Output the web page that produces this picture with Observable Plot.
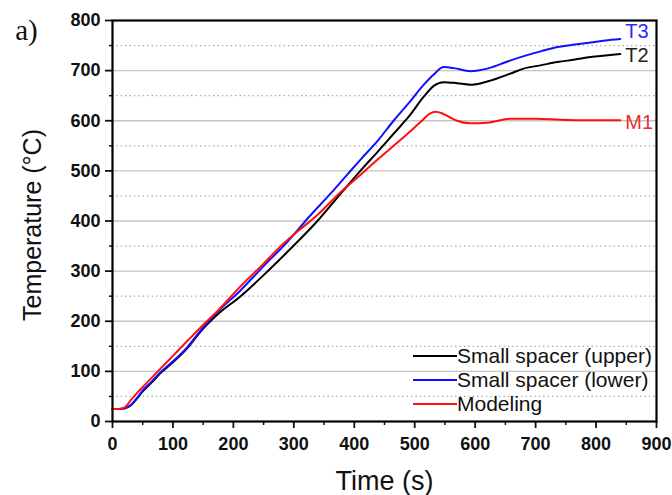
<!DOCTYPE html>
<html>
<head>
<meta charset="utf-8">
<script src="https://cdn.jsdelivr.net/npm/d3@7"></script>
<script src="https://cdn.jsdelivr.net/npm/@observablehq/plot@0.6"></script>
<style>
  html, body { margin: 0; padding: 0; background: #fff; }
  #wrap { position: relative; width: 672px; height: 495px; font-family: "Liberation Sans", Arial, sans-serif; }
  #legend { position: absolute; left: 413px; top: 344px; }
  .row { display: flex; align-items: center; height: 24px; font-size: 21px; color: #111; white-space: nowrap; }
  .sw { width: 44px; height: 2px; margin-right: 0px; }
</style>
</head>
<body>
<div id="wrap"></div>
<script>
// ---- data ----
const lowerTime = [0,10,20,30,40,50,65,79,100,125,146,175,212,250,289,325,361,388,410,440,465,490,515,532,548,565,592,620,642,660,686,710,736,765,791,815,840];
const lowerTemp = [25,25,27,33,46,62,80,98,120,150,182,220,262,310,358,408,455,492,522,562,600,635,672,693,707,705,699,704,713,721,731,739,747,752,756,760,763];

const upperTime = [0,10,20,30,40,50,65,79,100,125,146,175,212,250,289,339,380,410,440,465,490,515,532,548,570,592,610,625,658,680,710,736,765,791,815,840];
const upperTemp = [25,25,26,32,45,60,78,96,118,148,180,215,250,292,338,400,458,500,540,574,608,648,670,677,675,672,675,680,694,704,711,717,722,727,730,733];

const modelTime = [0,15,22,30,40,55,79,100,125,146,175,212,250,283,310,339,375,410,440,465,490,510,525,534,545,558,570,592,620,658,700,741,790,840];
const modelTemp = [25,25,30,42,56,75,105,131,162,188,222,270,315,355,383,412,455,492,524,550,576,598,614,618,615,607,600,595,596,604,604,602,601,601];

const seriesNames = ["Small spacer (upper)", "Small spacer (lower)", "Modeling"];
const seriesTags = ["T2", "T3", "M1"];
const seriesColors = ["#000000", "#1010ff", "#ff1010"];
const tagColors = ["#222222", "#2a2aff", "#e83030"];

const xMajor = [0,100,200,300,400,500,600,700,800,900];
const xMinor = [50,150,250,350,450,550,650,750,850];
const yMajor = [0,100,200,300,400,500,600,700,800];
const yMinor = [50,150,250,350,450,550,650,750];
const yGrid = [100,200,300,400,500,600,700];

const xTitle = "Time (s)";
const yTitle = "Temperature (°C)";
const panelTag = "a)";

// ---- build tidy table ----
const pairs = [[upperTime, upperTemp], [lowerTime, lowerTemp], [modelTime, modelTemp]];
const rows = [];
pairs.forEach(([ts, vs], i) => ts.forEach((t, j) => rows.push({t, v: vs[j], s: seriesNames[i]})));
const ends = pairs.map(([ts, vs], i) => ({t: ts[ts.length - 1], v: vs[vs.length - 1], tag: seriesTags[i], c: tagColors[i]}));

const font = "Liberation Sans, Arial, sans-serif";

const chart = Plot.plot({
  width: 672,
  height: 495,
  marginLeft: 112,
  marginRight: 16,
  marginTop: 20,
  marginBottom: 74,
  style: {fontFamily: font, background: "#fff", color: "#111"},
  x: {domain: [0, 900]},
  y: {domain: [0, 800]},
  color: {domain: seriesNames, range: seriesColors},
  marks: [
    Plot.gridY(yGrid, {stroke: "#c4c4c4", strokeOpacity: 1, strokeWidth: 1.3}),
    Plot.gridY(yMinor, {stroke: "#9a9a9a", strokeOpacity: 1, strokeWidth: 1.2, strokeDasharray: "1.2,3.2"}),
    Plot.axisX({ticks: xMinor, tickSize: 4, text: null, label: null, strokeWidth: 1.5}),
    Plot.axisX({ticks: xMajor, tickSize: 7, tickPadding: 9, fontSize: 18, fontWeight: "bold", tickFormat: d => d, label: null, strokeWidth: 1.8}),
    Plot.axisY({ticks: yMinor, tickSize: 3, text: null, label: null, strokeWidth: 1.5}),
    Plot.axisY({ticks: yMajor, tickSize: 7, tickPadding: 5, fontSize: 18, fontWeight: "bold", tickFormat: d => d, label: null, strokeWidth: 1.8}),
    Plot.line(rows, {x: "t", y: "v", z: "s", stroke: "s", strokeWidth: 2, curve: "monotone-x"}),
    Plot.frame({stroke: "#000", strokeWidth: 2.2}),
    Plot.text([ends[1]], {x: "t", y: "v", text: "tag", fill: "c", textAnchor: "start", dx: 5, dy: -7, fontSize: 20}),
    Plot.text([ends[0]], {x: "t", y: "v", text: "tag", fill: "c", textAnchor: "start", dx: 5, dy: 2, fontSize: 20}),
    Plot.text([ends[2]], {x: "t", y: "v", text: "tag", fill: "c", textAnchor: "start", dx: 5, dy: 2, fontSize: 20}),
    Plot.text([yTitle], {frameAnchor: "left", text: d => d, rotate: -90, dx: -80, dy: 4, fontSize: 25, textAnchor: "middle", lineAnchor: "middle", fill: "#111"}),
    Plot.text([xTitle], {frameAnchor: "bottom", text: d => d, dy: 60, fontSize: 27, textAnchor: "middle", lineAnchor: "middle", fill: "#111"}),
    Plot.text([panelTag], {frameAnchor: "top-left", text: d => d, dx: -86, dy: 10, fontSize: 29, fontFamily: "Liberation Serif, serif", textAnchor: "middle", lineAnchor: "middle", fill: "#111"})
  ]
});

const wrap = document.getElementById("wrap");
wrap.appendChild(chart);

// legend inside the plot (bottom-right)
const legend = document.createElement("div");
legend.id = "legend";
seriesNames.forEach((name, i) => {
  const row = document.createElement("div");
  row.className = "row";
  const sw = document.createElement("span");
  sw.className = "sw";
  sw.style.background = seriesColors[i];
  const tx = document.createElement("span");
  tx.textContent = name;
  row.appendChild(sw);
  row.appendChild(tx);
  legend.appendChild(row);
});
wrap.appendChild(legend);
</script>
</body>
</html>
